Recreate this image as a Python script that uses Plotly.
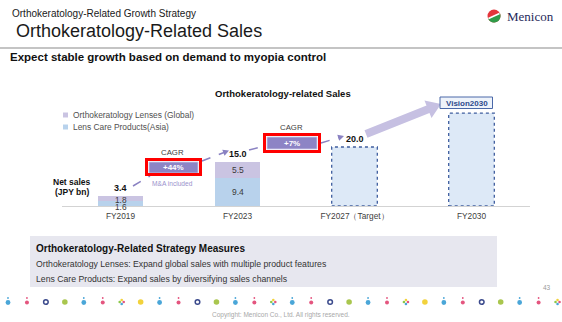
import numpy as np
import plotly.graph_objects as go

W, H = 562, 322

# ---------------- data ----------------
categories = ["FY2019", "FY2023", "FY2027", "FY2030"]
tick_labels = ["FY2019", "FY2023", "FY2027（Target）", "FY2030"]
lens_care_asia = [1.6, 9.4, None, None]
ortho_lenses_global = [1.8, 5.5, None, None]
plan_totals = [None, None, 20.0, 31.5]
total_values = [3.4, 15.0, 20.0, None]
total_labels = ["3.4", "15.0", "20.0", ""]
cagr_labels = ["+44%", "+7%"]
legend_names = ["Orthokeratology Lenses (Global)", "Lens Care Products(Asia)"]

# ---------------- styles ----------------
FONT = "Liberation Sans, Arial, Helvetica, sans-serif"
COL_ORTHO = "#cac4e2"
COL_CARE = "#b8d2ec"
COL_PLAN = "#dde9f7"
COL_PLAN_LINE = "#3f5e9f"
COL_ARROW = "#8a82c2"
COL_BIGARROW = "#c6c0e2"
COL_CAGR = "#8d84c5"
BAR_W = 0.39
PX_PER_UNIT = 2.95
Y_BASE_PX, Y_TOP_PX = 206, 80

fig = go.Figure()
fig.add_bar(x=categories, y=lens_care_asia, name=legend_names[1], width=BAR_W,
            marker=dict(color=COL_CARE, line=dict(width=0)), hoverinfo="skip")
fig.add_bar(x=categories, y=ortho_lenses_global, name=legend_names[0], width=BAR_W,
            marker=dict(color=COL_ORTHO, line=dict(width=0)), hoverinfo="skip")
fig.add_bar(x=categories, y=plan_totals, name="Plan", width=BAR_W,
            marker=dict(color=COL_PLAN, line=dict(width=0)), hoverinfo="skip")

# dashed outlines of plan bars (data coordinates)
for i, v in enumerate(plan_totals):
    if v:
        fig.add_shape(type="rect", xref="x", yref="y", x0=i - BAR_W / 2, x1=i + BAR_W / 2,
                      y0=0, y1=v, line=dict(color=COL_PLAN_LINE, width=1.3, dash="dot"),
                      fillcolor="rgba(0,0,0,0)")

# segment labels
for i, (c, o) in enumerate(zip(lens_care_asia, ortho_lenses_global)):
    if c is None:
        continue
    thin = c * PX_PER_UNIT < 10
    fig.add_annotation(x=categories[i], y=c / 2, xref="x", yref="y", text=f"{c}",
                       showarrow=False, yshift=-3 if thin else 0,
                       font=dict(size=8.3 if thin else 8.5, color="#3a3a3a", family=FONT))
    fig.add_annotation(x=categories[i], y=c + o / 2, xref="x", yref="y", text=f"{o}",
                       showarrow=False, yshift=-1 if thin else 0,
                       font=dict(size=8.3 if thin else 8.5, color="#3a3a3a", family=FONT))

# totals
for i, (v, t) in enumerate(zip(total_values, total_labels)):
    if v is None:
        continue
    fig.add_annotation(x=categories[i], y=v, xref="x", yref="y", text=f"<b>{t}</b>",
                       showarrow=False, yanchor="bottom", yshift=1,
                       font=dict(size=9, color="#111111", family=FONT))


# ---------------- helpers for slide decoration (pixel -> paper) ----------------
def px(x):
    return x / W


def py(y):
    return 1 - y / H


def rect(x0, y0, x1, y1, fill="rgba(0,0,0,0)", line_color=None, line_width=0, dash=None):
    fig.add_shape(type="rect", xref="paper", yref="paper",
                  x0=px(x0), x1=px(x1), y0=py(y1), y1=py(y0), fillcolor=fill,
                  line=dict(color=line_color or "rgba(0,0,0,0)", width=line_width, dash=dash))


def line(x0, y0, x1, y1, color, width=1, dash=None):
    fig.add_shape(type="line", xref="paper", yref="paper",
                  x0=px(x0), x1=px(x1), y0=py(y0), y1=py(y1),
                  line=dict(color=color, width=width, dash=dash))


def poly(pts, fill):
    d = "M " + " L ".join(f"{px(x):.5f},{py(y):.5f}" for x, y in pts) + " Z"
    fig.add_shape(type="path", xref="paper", yref="paper", path=d,
                  fillcolor=fill, line=dict(width=0))


def circle(cx, cy, r, fill, line_color=None, line_width=0):
    fig.add_shape(type="circle", xref="paper", yref="paper",
                  x0=px(cx - r), x1=px(cx + r), y0=py(cy + r), y1=py(cy - r),
                  fillcolor=fill, line=dict(color=line_color or "rgba(0,0,0,0)", width=line_width))


def text(x, y, s, size, color="#111111", anchor="left", family=FONT):
    fig.add_annotation(xref="paper", yref="paper", x=px(x), y=py(y), text=s,
                       showarrow=False, xanchor=anchor, yanchor="middle",
                       font=dict(size=size, color=color, family=family))


def arrowhead(tail, tip, color, length=6, half=3.2):
    (x0, y0), (x1, y1) = tail, tip
    d = np.array([x1 - x0, y1 - y0], float)
    d /= np.linalg.norm(d)
    n = np.array([-d[1], d[0]])
    base = np.array([x1, y1]) - d * length
    poly([(x1, y1), tuple(base + n * half), tuple(base - n * half)], color)


# ---------------- header ----------------
text(10, 14, "Orthokeratology-Related Growth Strategy", 10, "#1a1a1a")
text(14, 31, "Orthokeratology-Related Sales", 18, "#1a1a1a")
line(0, 48, W, 48, "#c4c4c4", 2)
text(8, 57, "<b>Expect stable growth based on demand to myopia control</b>", 11.5, "#111111")

# logo
circle(494, 16, 6.5, "#e4353b")
ang = np.linspace(np.radians(-25), np.radians(155), 24)
poly([(494 + 6.5 * np.cos(a), 16 + 6.5 * np.sin(a)) for a in ang], "#2f9c49")
line(488.5, 18.5, 499.5, 13.5, "white", 1.6)
text(505, 16.5, "Menicon", 13, "#1f2a5a", family="Liberation Serif, serif")

# ---------------- chart decorations ----------------
text(283, 93, "<b>Orthokeratology-related Sales</b>", 9.5, "#111111", anchor="center")

rect(63, 112.5, 68, 117.5, fill=COL_ORTHO)
rect(63, 124.5, 68, 129.5, fill=COL_CARE)
text(70.5, 115, legend_names[0], 8.4, "#505050")
text(70.5, 127, legend_names[1], 8.4, "#505050")

text(72, 182, "<b>Net sales</b>", 8.5, "#111111", anchor="center")
text(72, 192, "<b>(JPY bn)</b>", 8.5, "#111111", anchor="center")

# dashed growth arrows
line(133, 186, 150, 176, COL_ARROW, 1.5, "dash")
line(202, 161, 224, 152.5, COL_ARROW, 1.5, "dash")
arrowhead((202, 161), (229, 150.5), COL_ARROW)
line(249, 150, 265, 146, COL_ARROW, 1.5, "dash")
line(321, 143, 339, 137.5, COL_ARROW, 1.5, "dash")
arrowhead((321, 143), (344, 136), COL_ARROW)

# CAGR boxes
rect(149, 162, 198, 173, fill=COL_CAGR, line_color="#cfcbe8", line_width=0.8)
rect(146.5, 159.5, 200.5, 174.5, line_color="#ff0000", line_width=3)
text(172, 152, "CAGR", 7.8, "#404040", anchor="center")
text(173.5, 167.5, f"<b>{cagr_labels[0]}</b>", 8, "white", anchor="center")
text(172.5, 183, "M&A included", 6.6, "#9a92cc", anchor="center")

rect(267, 137, 317, 149, fill=COL_CAGR, line_color="#cfcbe8", line_width=0.8)
rect(264.5, 134.5, 319.5, 151.5, line_color="#ff0000", line_width=3)
text(291, 128, "CAGR", 7.8, "#404040", anchor="center")
text(292, 143, f"<b>{cagr_labels[1]}</b>", 8, "white", anchor="center")

# big arrow toward Vision2030
tail, tip = np.array([366.0, 134.0]), np.array([441.0, 104.0])
d = (tip - tail) / np.linalg.norm(tip - tail)
n = np.array([-d[1], d[0]])
hb = tip - d * 14
poly([tuple(tail + n * 4), tuple(hb + n * 4), tuple(hb + n * 9.5), tuple(tip),
      tuple(hb - n * 9.5), tuple(hb - n * 4), tuple(tail - n * 4)], COL_BIGARROW)

rect(440, 97, 492.5, 108.5, fill="#eef3fa", line_color="#4a68a8", line_width=1)
text(466.5, 103, "<b>Vision2030</b>", 8, "#2c4a8c", anchor="center")

# ---------------- bottom box ----------------
rect(30, 236, 497, 287, fill="#e7e7ef")
text(34, 248, "<b>Orthokeratology-Related Strategy Measures</b>", 10, "#111111")
text(34, 263.5, "Orthokeratology Lenses: Expand global sales with multiple product features", 8.7, "#333333")
text(34, 279, "Lens Care Products: Expand sales by diversifying sales channels", 8.7, "#333333")
text(547, 287, "43", 6.5, "#9a9a9a", anchor="center")

# decorative icon row
pattern = ["b", "p", "n", "g", "b", "p", "m", "y", "b", "p", "n", "g", "b", "p", "m",
           "b", "p", "n", "g", "b", "p", "m", "y", "b", "p", "n", "g", "b", "p", "m"]
for k, t in enumerate(pattern):
    cx, cy = 8 + 18.95 * k, 302
    if t == "b":
        circle(cx, cy + 0.5, 2.4, "#4aa6d8")
        circle(cx, cy - 4, 0.9, "#4aa6d8")
    elif t == "p":
        circle(cx, cy + 0.5, 2.0, "#e4557f")
        circle(cx, cy - 4, 0.9, "#e4557f")
    elif t == "n":
        circle(cx, cy, 2.3, "white", "#3b4a8c", 1.5)
    elif t == "g":
        circle(cx, cy, 2.8, "#a9c64e")
    elif t == "y":
        circle(cx, cy, 2.8, "#f2d23c")
    else:
        circle(cx - 2, cy, 1.3, "#8cc84a")
        circle(cx + 2, cy, 1.3, "#e4557f")
        circle(cx, cy - 2, 1.3, "#f2d23c")
        circle(cx, cy + 2, 1.3, "#4aa6d8")

text(281, 314.5, "Copyright: Menicon Co., Ltd. All rights reserved.", 6.5, "#a8a8a8", anchor="center")

# ---------------- layout ----------------
fig.update_layout(
    width=W, height=H, margin=dict(l=0, r=0, t=0, b=0),
    paper_bgcolor="white", plot_bgcolor="rgba(0,0,0,0)",
    barmode="stack", bargap=0, showlegend=False,
    font=dict(family=FONT),
    xaxis=dict(domain=[62 / W, 530 / W], type="category", categoryorder="array",
               categoryarray=categories, tickvals=categories, ticktext=tick_labels,
               range=[-0.5, 3.5], showline=True, linecolor="#d3d3d3", linewidth=1,
               ticks="", showgrid=False, zeroline=False, fixedrange=True,
               ticklabelstandoff=2,
               tickfont=dict(size=8.3, color="#404040", family=FONT)),
    yaxis=dict(domain=[1 - Y_BASE_PX / H, 1 - Y_TOP_PX / H],
               range=[0, (Y_BASE_PX - Y_TOP_PX) / PX_PER_UNIT],
               visible=False, fixedrange=True),
)

fig.write_html(
    "out.html",
    config={"displayModeBar": False},
    post_script="document.body.style.margin='0px';document.body.style.padding='0px';"
                "document.body.style.overflow='hidden';",
)
